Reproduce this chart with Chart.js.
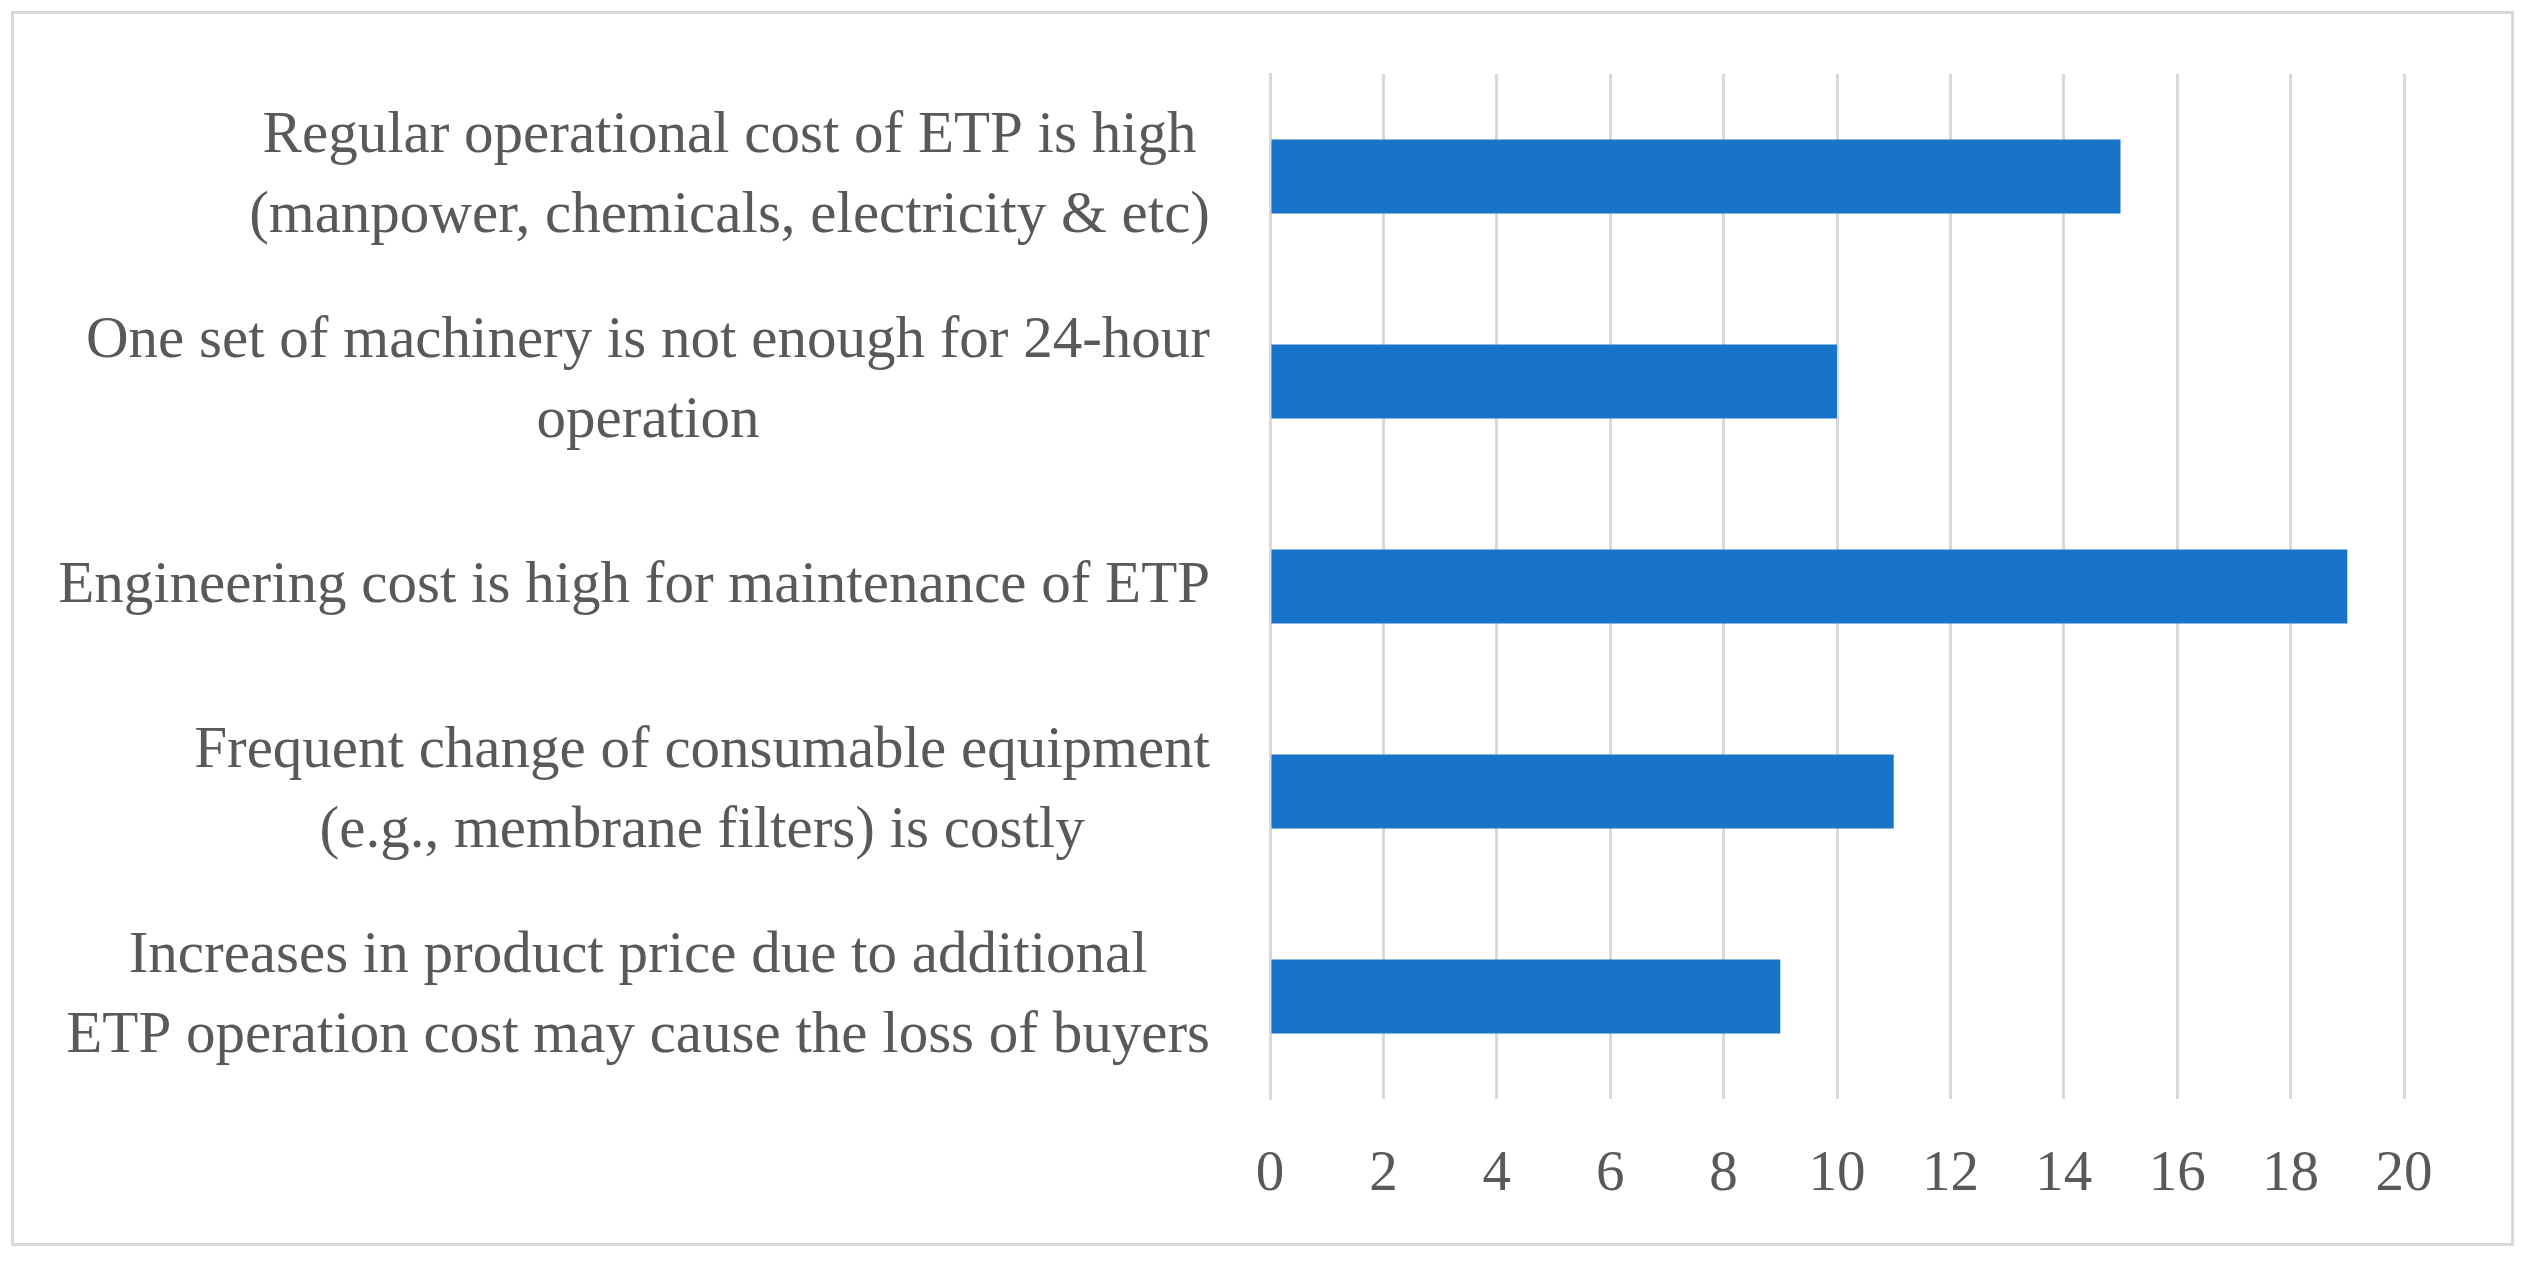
<!DOCTYPE html>
<html>
<head>
<meta charset="utf-8">
<script src="https://cdn.jsdelivr.net/npm/chart.js@4"></script>
<style>
    html, body { margin: 0; padding: 0; background: #fff; }
    #wrap { position: absolute; left: 0; top: 0; width: 2523px; height: 1262px; }
    #frame { position: absolute; left: 11px; top: 11px; width: 2497px; height: 1229px; border: 3px solid #d9d9d9; }
</style>
</head>
<body>
<div id="frame"></div>
<div id="wrap"><canvas id="chart"></canvas></div>
<script>
const categories = [
    ["Regular operational cost of ETP is high", "(manpower, chemicals, electricity & etc)"],
    ["One set of machinery is not enough for 24-hour", "operation"],
    ["Engineering cost is high for maintenance of ETP"],
    ["Frequent change of consumable equipment", "(e.g., membrane filters) is costly"],
    ["Increases in product price due to additional", "ETP operation cost may cause the loss of buyers"],
];
const values = [15, 10, 19, 11, 9];
const xMin = 0;
const xMax = 20;
const xStep = 2;

const FONT = "'Liberation Serif', 'DejaVu Serif', serif";
const TEXT_COLOR = "#595959";
const GRID_COLOR = "#d9d9d9";

// Excel style category labels: each block sits against the axis,
// its lines centred inside the block
const blockAlign = {
    id: "blockAlign",
    beforeDraw(chart) {
        const scale = chart.scales.y;
        const ctx = chart.ctx;
        const right = scale.right - scale.options.ticks.padding;
        scale.getLabelItems(chart.chartArea).forEach((item) => {
            ctx.font = item.font.string;
            const lines = Array.isArray(item.label) ? item.label : [item.label];
            const w = Math.max(...lines.map((l) => ctx.measureText(l).width));
            item.options.textAlign = "center";
            item.options.translation[0] = right - w / 2;
        });
    },
};

new Chart(document.getElementById("chart"), {
    type: "bar",
    data: {
        labels: categories,
        datasets: [{
            data: values,
            backgroundColor: "#1874c9",
            barPercentage: 0.36,
            categoryPercentage: 1,
        }],
    },
    options: {
        indexAxis: "y",
        responsive: true,
        maintainAspectRatio: false,
        devicePixelRatio: 1,
        animation: false,
        layout: { padding: { top: 74, right: 119, bottom: 0, left: 0 } },
        plugins: { legend: { display: false }, tooltip: { enabled: false } },
        scales: {
            x: {
                min: xMin,
                max: xMax,
                ticks: {
                    stepSize: xStep,
                    color: TEXT_COLOR,
                    font: { family: FONT, size: 57 },
                    padding: 42,
                },
                grid: { color: GRID_COLOR, lineWidth: 3, drawTicks: false },
                border: { display: false },
                afterFit: (scale) => { scale.height = 163; },
            },
            y: {
                ticks: {
                    color: TEXT_COLOR,
                    font: { family: FONT, size: 59, lineHeight: 1.34 },
                    crossAlign: "center",
                    padding: 60,
                },
                grid: { display: false, drawTicks: false },
                border: { color: GRID_COLOR, width: 3 },
                afterFit: (scale) => {
                    // keep the label block from pushing the plot area down
                    scale.width = 1270;
                    scale.paddingTop = 0;
                    scale.paddingBottom = 0;
                },
            },
        },
    },
    plugins: [blockAlign],
});
</script>
</body>
</html>
